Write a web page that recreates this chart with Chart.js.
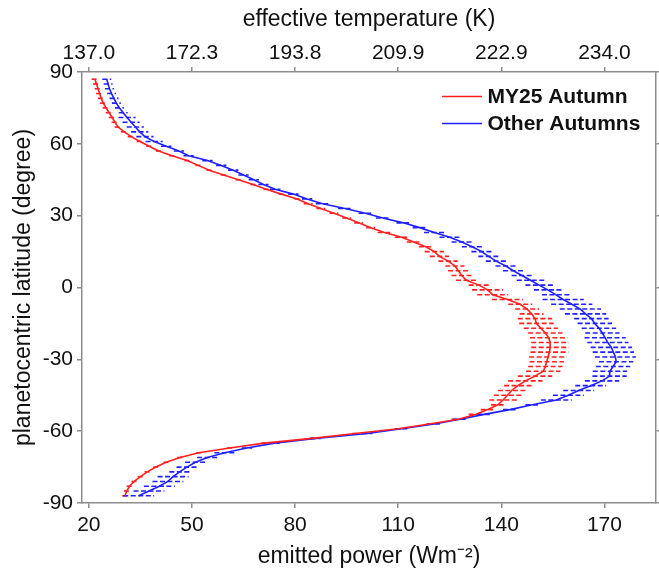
<!DOCTYPE html>
<html><head><meta charset="utf-8">
<script src="https://cdn.jsdelivr.net/npm/chart.js@4.4.0/dist/chart.umd.min.js"></script>
<style>html,body{margin:0;padding:0;background:#fff;}#wrap{width:659px;height:575px;position:relative;}</style>
</head><body><div id="wrap"><canvas id="c"></canvas></div>
<script>
const latitudes = [87,85,83,81,79,77,75,73,71,69, 67,65,63,61,59,57,55,53,51,49, 47,45,43,41,39,37,35,33,31,29, 27,25,23,21,19,17,15,13,11,9, 7,5,3,1,-1,-3,-5,-7,-9,-11, -13,-15,-17,-19,-21,-23,-25,-27,-29,-31, -33,-35,-37,-39,-41,-43,-45,-47,-49,-51, -53,-55,-57,-59,-61,-63,-65,-67,-69,-71, -73,-75,-77,-79,-81,-83,-85,-87];
const my25Power = [21.8,22.2,22.7,23.1,23.6,24.2,25.0,25.9,26.8,27.6, 28.5,30.3,32.3,34.9,37.5,40.3,44.2,48.6,51.8,55.0, 59.2,63.5,67.8,71.6,76.0,80.6,83.8,87.5,91.3,95.0, 98.5,102.0,106.0,111.0,114.5,118.0,120.5,122.0,124.5,126.5, 127.5,128.5,129.8,133.5,136.0,137.5,141.8,145.5,147.5,148.8, 149.8,150.2,151.5,152.8,153.8,154.2,154.2,154.0,153.6,153.2, 152.8,152.2,149.8,147.0,144.8,143.0,141.8,140.5,139.0,136.0, 132.5,127.5,119.0,110.0,97.5,85.0,71.0,61.0,52.0,46.5, 42.5,39.5,37.0,35.0,33.2,31.8,31.0,30.5];
const my25Error = [1.0,1.0,1.0,1.0,1.0,1.0,1.0,1.0,1.0,1.0, 1.0,1.0,1.0,1.0,0.8,0.8,0.8,0.8,0.8,0.8, 0.8,0.8,0.8,0.8,0.8,0.8,1.3,1.3,1.3,1.3, 1.3,1.3,2.0,2.0,2.0,2.0,2.8,2.8,2.8,2.8, 3.0,3.0,3.0,3.0,4.5,4.5,4.5,3.5,3.5,3.5, 5.0,5.0,5.0,5.0,5.5,5.5,5.5,5.5,5.5,5.0, 5.0,5.0,5.0,5.0,4.0,4.0,4.0,4.0,2.0,2.0, 2.0,2.0,0.8,0.8,0.8,0.8,0.8,0.8,0.8,0.8, 0.8,0.8,0.8,0.8,0.8,0.8,0.8,0.8];
const otherPower = [25.2,25.6,26.0,26.6,27.3,28.0,28.9,30.0,31.1,32.3, 33.5,34.8,36.3,39.0,42.5,46.2,49.0,54.5,58.5,62.0, 65.0,68.0,70.8,74.2,79.5,83.5,88.0,94.5,100.5,105.5, 111.5,116.2,120.5,125.0,128.5,131.5,134.3,136.3,138.5,141.3, 143.5,146.0,148.5,151.0,153.5,155.8,158.0,160.5,163.0,164.5, 166.2,167.2,168.4,169.4,170.2,171.0,172.0,172.6,173.2,173.4, 172.5,171.6,171.5,169.3,166.0,162.5,159.5,156.0,149.0,142.5, 135.0,128.0,120.5,111.0,101.0,86.0,74.0,66.0,59.5,54.5, 51.0,48.5,46.4,44.5,43.0,40.5,37.5,34.5];
const otherError = [1.3,1.3,1.3,1.3,1.3,1.3,1.3,1.3,2.5,2.5, 2.5,2.5,2.5,2.5,1.5,1.5,1.5,1.5,1.5,1.5, 1.5,1.5,1.5,1.5,1.5,1.5,2.0,2.0,2.0,2.0, 2.0,2.0,3.0,3.0,3.0,3.0,3.0,3.0,3.0,3.0, 3.0,3.0,4.0,4.0,4.0,4.0,6.0,6.0,6.0,6.0, 5.0,5.0,5.0,5.0,6.0,6.0,6.0,6.0,6.0,5.0, 5.0,5.0,5.0,5.0,4.5,4.5,4.5,4.5,2.0,2.0, 2.0,2.0,2.0,2.0,1.5,1.5,1.5,1.5,3.0,3.0, 3.0,3.0,3.0,4.5,4.5,4.5,4.5,4.5];
const powerTicks = [20,50,80,110,140,170];
const temperatureLabels = ['137.0','172.3','193.8','209.9','222.9','234.0'];
const latitudeTicks = [-90,-60,-30,0,30,60,90];
const seriesLabels = ['MY25 Autumn','Other Autumns'];
const seriesColors = ['#ff2020','#2020ff'];

const FONT = "'Liberation Sans', Arial, Helvetica, sans-serif";
Chart.defaults.font.family = FONT;
Chart.defaults.color = '#111';
const AXIS = '#8c8c8c';

function toPoints(vals){ return vals.map((v,i)=>({x:v, y:latitudes[i]})); }

const errorBarPlugin = {
  id:'errorBars',
  beforeDatasetsDraw(chart){
    const {ctx, scales:{x,y}} = chart;
    ctx.save();
    chart.data.datasets.forEach(ds=>{
      ctx.strokeStyle = ds.borderColor; ctx.lineWidth = 1.6; ctx.setLineDash([5,2.5]);
      ds.data.forEach((p,i)=>{
        const e = ds.errorBars[i];
        const py = y.getPixelForValue(p.y);
        ctx.beginPath();
        ctx.moveTo(x.getPixelForValue(p.x-e), py);
        ctx.lineTo(x.getPixelForValue(p.x+e), py);
        ctx.stroke();
      });
    });
    ctx.restore();
  }
};

const legendPlugin = {
  id:'insideLegend',
  afterDraw(chart){
    const {ctx, chartArea:ca} = chart;
    ctx.save();
    chart.data.datasets.forEach((ds,i)=>{
      const yy = ca.top + 24.5 + i*27;
      ctx.strokeStyle = ds.borderColor; ctx.lineWidth = 1.6; ctx.setLineDash([]);
      ctx.beginPath(); ctx.moveTo(ca.right-214, yy); ctx.lineTo(ca.right-174, yy); ctx.stroke();
      ctx.fillStyle = '#111'; ctx.font = 'bold 21px ' + FONT;
      ctx.textBaseline = 'middle'; ctx.textAlign = 'left';
      ctx.fillText(ds.label, ca.right-168.5, yy+1);
    });
    ctx.restore();
  }
};

const gridCfg = {drawOnChartArea:false, drawTicks:true, tickLength:5, color:AXIS, lineWidth:1.5};
const borderCfg = {display:true, color:AXIS, width:1.5};

new Chart(document.getElementById('c'), {
  type:'line',
  data:{ datasets:[
    {label:seriesLabels[0], data:toPoints(my25Power), errorBars:my25Error, borderColor:seriesColors[0], borderWidth:1.6, pointRadius:0, fill:false, tension:0},
    {label:seriesLabels[1], data:toPoints(otherPower), errorBars:otherError, borderColor:seriesColors[1], borderWidth:1.6, pointRadius:0, fill:false, tension:0}
  ]},
  options:{
    responsive:true, maintainAspectRatio:false, animation:false,
    layout:{padding:0},
    plugins:{legend:{display:false}, tooltip:{enabled:false}},
    scales:{
      x:{type:'linear', position:'bottom', min:18, max:185,
        afterBuildTicks:s=>{s.ticks = powerTicks.map(v=>({value:v}));},
        afterFit:s=>{s.height = 72;},
        ticks:{font:{size:21}, color:'#111', padding:5, maxRotation:0, autoSkip:false},
        grid:gridCfg, border:borderCfg,
        title:{display:true, text:'emitted power (Wm⁻²)', font:{size:23}, color:'#111', padding:{top:0,bottom:5}}
      },
      x2:{type:'linear', position:'top', min:18, max:185,
        afterBuildTicks:s=>{s.ticks = powerTicks.map(v=>({value:v}));},
        afterFit:s=>{s.height = 72;},
        ticks:{font:{size:21}, color:'#111', padding:1, maxRotation:0, autoSkip:false, callback:(v,i)=>temperatureLabels[i]},
        grid:gridCfg, border:borderCfg,
        title:{display:true, text:'effective temperature (K)', font:{size:23}, color:'#111', padding:{top:6,bottom:0}}
      },
      y:{type:'linear', position:'left', min:-90, max:90,
        afterBuildTicks:s=>{s.ticks = latitudeTicks.map(v=>({value:v}));},
        afterFit:s=>{s.width = 82;},
        ticks:{font:{size:21}, color:'#111', padding:4},
        grid:gridCfg, border:borderCfg,
        title:{display:true, text:'planetocentric latitude (degree)', font:{size:23}, color:'#111', padding:{top:10,bottom:0}}
      },
      y2:{type:'linear', position:'right', min:-90, max:90,
        afterBuildTicks:s=>{s.ticks = latitudeTicks.map(v=>({value:v}));},
        afterFit:s=>{s.width = 3;},
        ticks:{display:false},
        grid:{drawOnChartArea:false, drawTicks:true, tickLength:3, color:AXIS, lineWidth:1.5}, border:borderCfg
      }
    }
  },
  plugins:[errorBarPlugin, legendPlugin]
});
</script></body></html>
